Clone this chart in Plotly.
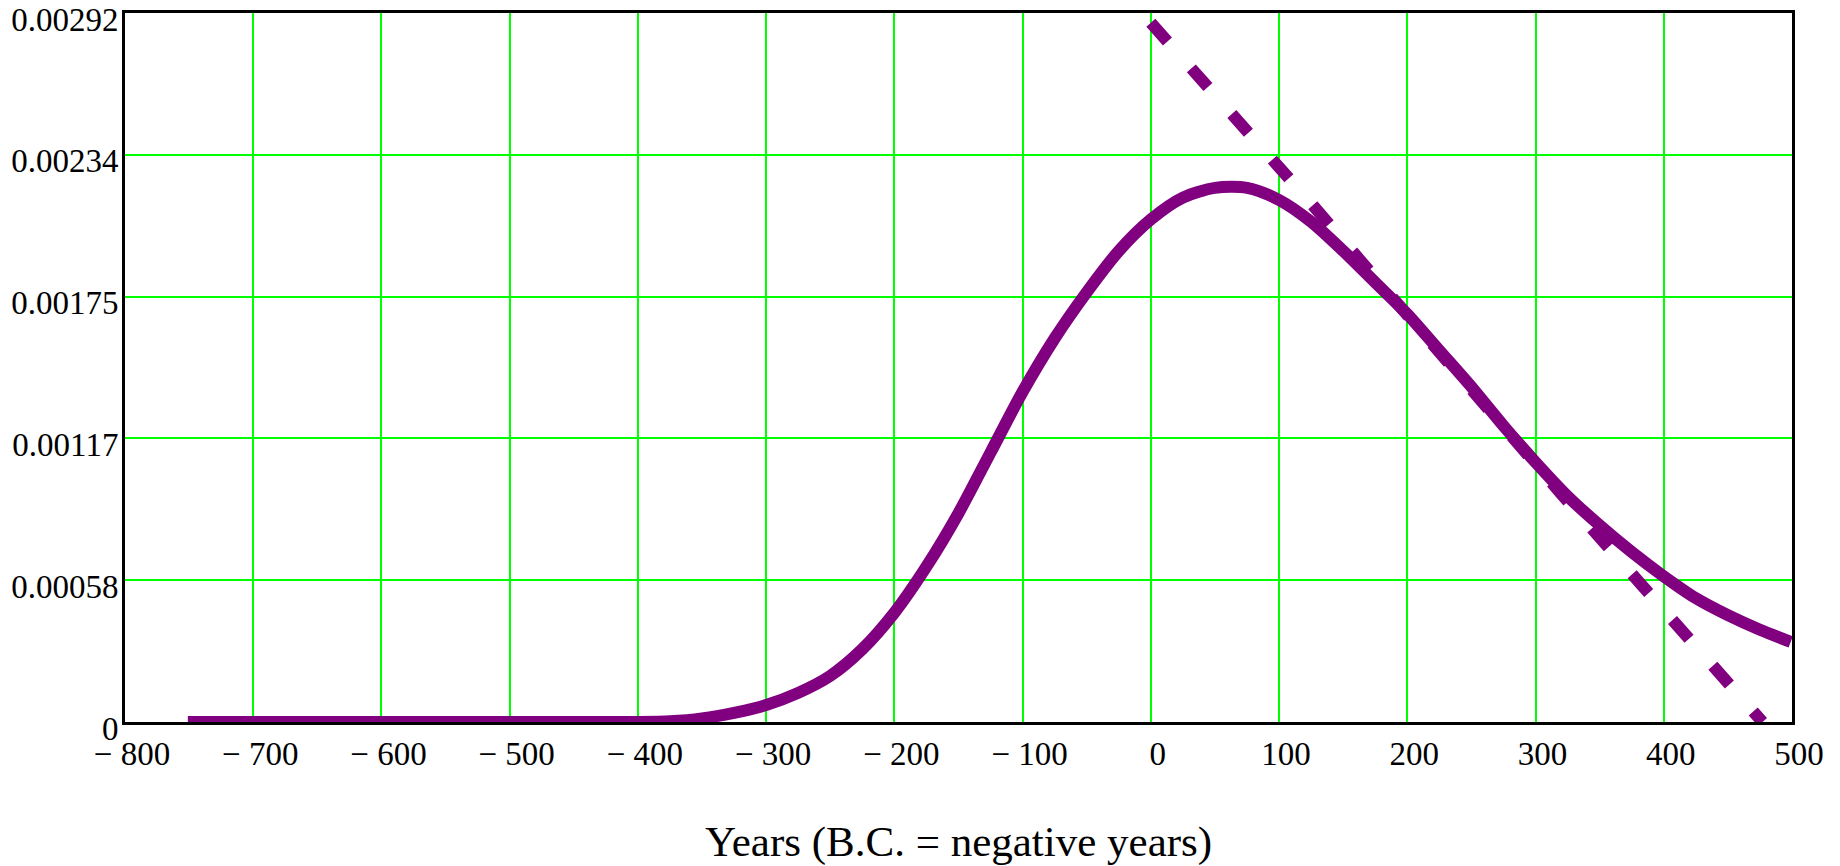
import plotly.graph_objects as go

# Solid curve
years = [-751, -500, -400, -375, -350, -325, -300, -275, -250, -225, -200, -175,
         -150, -125, -100, -75, -50, -25, 0, 25, 50, 75, 100, 125, 150, 175, 200,
         225, 250, 275, 300, 325, 350, 375, 400, 425, 450, 475, 499]
density = [0.0, 0.0, 0.0, 0.000003, 0.000015, 0.000038, 0.00007, 0.00012, 0.00019,
           0.00030, 0.00045, 0.00064, 0.00086, 0.00111, 0.00136, 0.00158, 0.00177,
           0.00194, 0.00207, 0.00216, 0.00220, 0.00220, 0.00215, 0.00206, 0.00194,
           0.00181, 0.00168, 0.00153, 0.00138, 0.00122, 0.00107, 0.00093, 0.00081,
           0.00070, 0.00060, 0.00051, 0.00044, 0.00038, 0.00033]

# Dashed line
dash_years = [0, 126, 320, 416, 477]
dash_density = [0.00288, 0.00213, 0.00094, 0.00036, 0.0]

x_ticks = [-800, -700, -600, -500, -400, -300, -200, -100, 0, 100, 200, 300, 400, 500]
x_tick_text = ["\u2212 800", "\u2212 700", "\u2212 600", "\u2212 500", "\u2212 400",
               "\u2212 300", "\u2212 200", "\u2212 100", "0", "100", "200", "300", "400", "500"]
y_ticks = [0.0, 0.000584, 0.001168, 0.001752, 0.002336, 0.00292]
y_tick_text = ["0", "0.00058", "0.00117", "0.00175", "0.00234", "0.00292"]

x_title = "Years (B.C. = negative years)"

PURPLE = "#800080"
GREEN = "#00FF00"
FONT = "Liberation Serif"

fig = go.Figure()
fig.add_trace(go.Scatter(x=years, y=density, mode="lines",
                         line=dict(color=PURPLE, width=12, shape="spline", smoothing=0.8),
                         showlegend=False, hoverinfo="skip"))
fig.add_trace(go.Scatter(x=dash_years, y=dash_density, mode="lines",
                         line=dict(color=PURPLE, width=12, dash="25px,36px"),
                         showlegend=False, hoverinfo="skip"))

fig.update_layout(
    template="none",
    width=1840, height=866, autosize=False,
    margin=dict(l=125, r=48, t=13, b=144, pad=0),
    paper_bgcolor="white", plot_bgcolor="white",
    font=dict(family=FONT, color="black", size=33),
    showlegend=False,
)
fig.update_xaxes(
    range=[-800, 500], tickmode="array", tickvals=x_ticks, ticktext=x_tick_text,
    showgrid=True, gridcolor=GREEN, gridwidth=2, automargin=False,
    showline=True, linecolor="black", linewidth=3, mirror=True,
    ticks="", zeroline=False, tickfont=dict(family=FONT, size=33, color="black"),
    ticklabelshift=7, ticklabelstandoff=0,
)
fig.update_yaxes(
    range=[0, 0.0029201], tickmode="array", tickvals=y_ticks, ticktext=y_tick_text,
    showgrid=True, gridcolor=GREEN, gridwidth=2, automargin=False,
    showline=True, linecolor="black", linewidth=3, mirror=True,
    ticks="", zeroline=False, tickfont=dict(family=FONT, size=33, color="black"),
    ticklabelshift=6, ticklabelstandoff=-3,
)
fig.add_annotation(text=x_title, xref="paper", yref="paper",
                   x=0.5, y=-(842 - 722) / 709,
                   xanchor="center", yanchor="middle", showarrow=False,
                   font=dict(family=FONT, size=43, color="black"))

fig.write_html("out.html")
